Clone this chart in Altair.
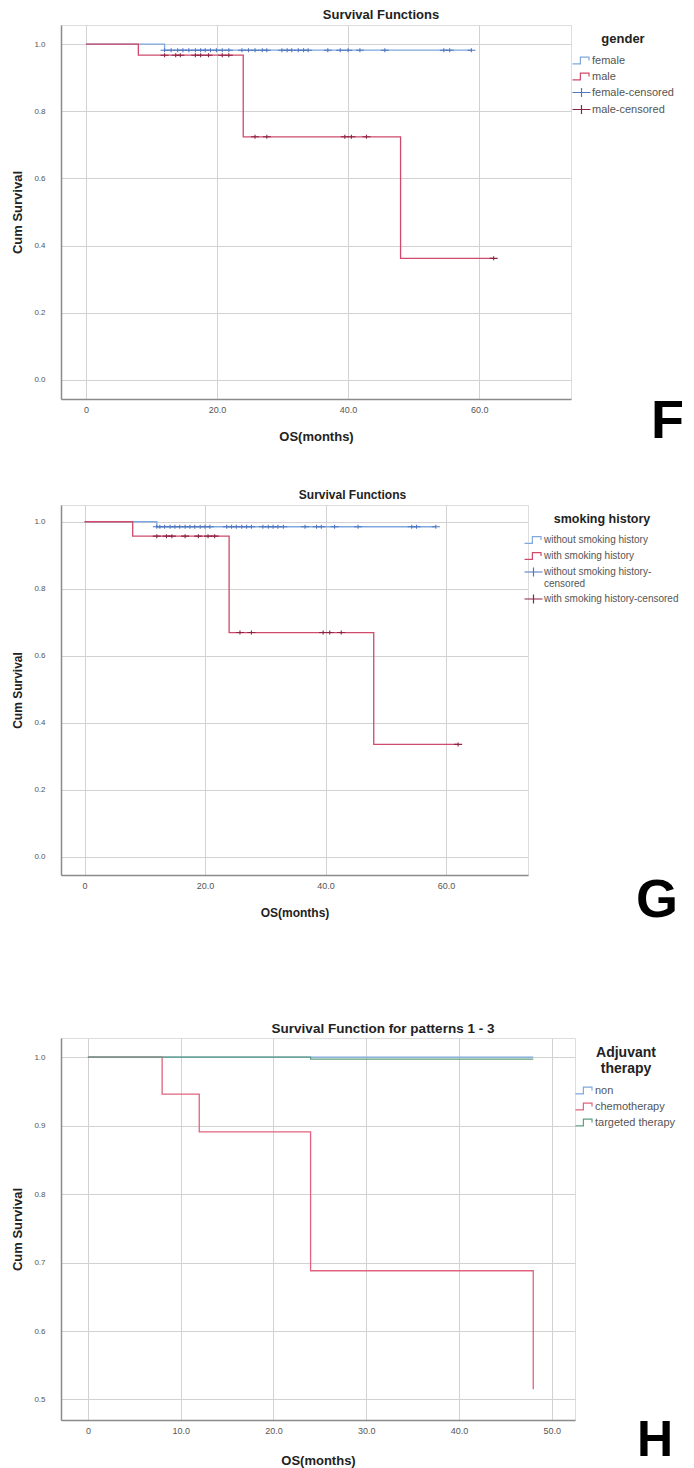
import altair as alt
import pandas as pd

FONT = "Liberation Sans"

# ---------------- Panel F : gender ----------------
F_female_t = [0, 12, 58.8]
F_female_s = [1.0, 0.982, 0.982]
F_male_t = [0, 8, 24, 48, 62.2]
F_male_s = [1.0, 0.967, 0.724, 0.362, 0.362]
F_female_cens = [12, 13, 14, 14.8, 15.7, 16.7, 17.5, 18.2, 19, 19.9, 20.8, 21.8,
                 23.8, 24.8, 25.8, 26.9, 27.6, 29.9, 30.7, 31.4, 32.4, 33.2, 33.9,
                 36.9, 38.8, 40, 41.8, 45.6, 54.6, 55.5, 58.8]
F_male_cens = [12, 13.7, 14.4, 16.7, 17.5, 18.7, 20.8, 21.8, 25.8, 27.6, 39.5,
               40.5, 42.8, 62.2]
F_labels = ["female", "male", "female-censored", "male-censored"]

# ---------------- Panel G : smoking history ----------------
G_non_t = [0, 12, 58.3]
G_non_s = [1.0, 0.985, 0.985]
G_smk_t = [0, 8, 24, 48, 62.0]
G_smk_s = [1.0, 0.957, 0.669, 0.335, 0.335]
G_non_cens = [12, 12.5, 13.3, 14.2, 15.0, 15.8, 16.7, 17.5, 18.3, 19.2, 20.0, 20.8,
              23.6, 24.4, 25.2, 26.1, 26.9, 27.7, 29.6, 30.5, 31.3, 32.1, 33.0,
              36.6, 38.5, 39.3, 41.5, 45.4, 54.3, 55.1, 58.3]
G_smk_cens = [12, 13.6, 14.5, 16.7, 18.9, 20.5, 21.6, 25.8, 27.7, 39.6, 40.7,
              42.6, 62.0]
G_labels = ["without smoking history", "with smoking history",
            "without smoking history-censored", "with smoking history-censored"]

# ---------------- Panel H : adjuvant therapy ----------------
H_non_t = [0, 48]
H_non_s = [1.0, 1.0]
H_chemo_t = [0, 8, 12, 24, 48]
H_chemo_s = [1.0, 0.946, 0.891, 0.688, 0.515]
H_target_t = [0, 24, 48]
H_target_s = [1.0, 0.997, 0.997]
H_labels = ["non", "chemotherapy", "targeted therapy"]

BLUE_LINE = "#7fa8de"
BLUE_CENS = "#4f76bf"
RED_LINE = "#cf4a6b"
RED_CENS = "#8e2345"
H_RED = "#e0647f"
H_GREEN = "#5f9e80"

STEP = "M-1.2,0.45 L-0.15,0.45 L-0.15,-0.45 L1.0,-0.45 L1.0,0"
CROSS = "M-1.2,0 L1.2,0 M0,-0.6 L0,0.6"


def curve_value(t, times, surv):
    v = surv[0]
    for tt, ss in zip(times, surv):
        if tt <= t:
            v = ss
    return v


def line_df(sets):
    rows = []
    for times, surv, lab in sets:
        for t, s in zip(times, surv):
            rows.append({"t": t, "s": s, "label": lab})
    return pd.DataFrame(rows)


def cens_df(sets):
    rows = []
    for cts, times, surv, lab in sets:
        for t in cts:
            rows.append({"t": t, "s": curve_value(t, times, surv), "label": lab})
    return pd.DataFrame(rows)


def make_panel(lines, cens, domain, colors, shapes, xdom, ydom, xticks, yticks,
               yfmt, w, h, title, tdx, tsize, ltitle, lx, ly, ltsize, llsize,
               letter, letx, lety, letsize, atsize, xtpad, label_expr=None):
    xax = alt.Axis(values=xticks, grid=True, gridColor="#d2d2d2", gridWidth=1,
                   domainColor="#8a8a8a", domainWidth=1.5, ticks=False, tickSize=0,
                   labelExpr="datum.value == 0 ? '0' : format(datum.value, '.1f')",
                   labelFont=FONT, labelFontSize=9, labelColor="#555555",
                   labelPadding=6, title="OS(months)", titleFont=FONT,
                   titleFontSize=atsize, titleFontWeight="bold", titleColor="#222222",
                   titlePadding=xtpad)
    yax = alt.Axis(values=yticks, format=yfmt, grid=True, gridColor="#d2d2d2",
                   gridWidth=1, domainColor="#8a8a8a", domainWidth=1.5, ticks=False,
                   tickSize=0, labelFont=FONT, labelFontSize=8, labelColor="#555555",
                   labelPadding=16, title="Cum Survival", titleFont=FONT,
                   titleFontSize=atsize, titleFontWeight="bold", titleColor="#222222",
                   titlePadding=9)
    x = alt.X("t:Q", scale=alt.Scale(domain=xdom, nice=False, zero=False), axis=xax)
    y = alt.Y("s:Q", scale=alt.Scale(domain=ydom, nice=False, zero=False), axis=yax)

    leg_kwargs = dict(orient="none", legendX=lx, legendY=ly, title=ltitle,
                      titleFont=FONT, titleFontSize=ltsize, titleFontWeight="bold",
                      titleColor="#222222", titleAlign="center", titleAnchor="middle",
                      titlePadding=6, labelFont=FONT, labelFontSize=llsize,
                      labelColor="#555555", symbolSize=225, symbolStrokeWidth=1.2,
                      rowPadding=1, labelOffset=2, padding=0, labelLimit=300)
    if label_expr:
        leg_kwargs["labelExpr"] = label_expr
    if cens is None:
        leg_kwargs["symbolType"] = STEP
    legend = alt.Legend(**leg_kwargs)

    color = alt.Color("label:N", scale=alt.Scale(domain=domain, range=colors),
                      legend=legend, sort=domain)
    layer_list = [
        alt.Chart(lines).mark_line(interpolate="step-after", strokeWidth=1.3)
        .encode(x=x, y=y, color=color)
    ]
    if cens is not None:
        shape = alt.Shape("label:N", scale=alt.Scale(domain=domain, range=shapes),
                          legend=legend, sort=domain)
        layer_list.append(
            alt.Chart(cens).mark_point(filled=False, size=45, strokeWidth=1.1, opacity=1)
            .encode(x=x, y=y, color=color, shape=shape)
        )
    layer_list.append(
        alt.Chart(pd.DataFrame({"letter": [letter]}))
        .mark_text(font=FONT, fontSize=letsize, fontWeight="bold", align="left",
                   baseline="alphabetic", color="#000000")
        .encode(x=alt.value(letx), y=alt.value(lety), text="letter:N")
    )
    return alt.layer(*layer_list).properties(
        width=w, height=h,
        title=alt.TitleParams(text=title, font=FONT, fontSize=tsize,
                              fontWeight="bold", color="#222222", anchor="middle",
                              frame="group", dx=tdx, offset=3),
    )


panelF = make_panel(
    line_df([(F_female_t, F_female_s, F_labels[0]), (F_male_t, F_male_s, F_labels[1])]),
    cens_df([(F_female_cens, F_female_t, F_female_s, F_labels[2]),
             (F_male_cens, F_male_t, F_male_s, F_labels[3])]),
    F_labels, [BLUE_LINE, RED_LINE, BLUE_CENS, RED_CENS], [STEP, STEP, CROSS, CROSS],
    [-3.8, 74.0], [-0.057, 1.057], [0, 20, 40, 60], [0, 0.2, 0.4, 0.6, 0.8, 1.0], ".1f",
    510, 374, "Survival Functions", 65, 13, "gender", 512, 8, 13, 11,
    "F", 590, 413, 54, 13, 16)

panelG = make_panel(
    line_df([(G_non_t, G_non_s, G_labels[0]), (G_smk_t, G_smk_s, G_labels[1])]),
    cens_df([(G_non_cens, G_non_t, G_non_s, G_labels[2]),
             (G_smk_cens, G_smk_t, G_smk_s, G_labels[3])]),
    G_labels, [BLUE_LINE, RED_LINE, BLUE_CENS, RED_CENS], [STEP, STEP, CROSS, CROSS],
    [-3.9, 73.6], [-0.055, 1.05], [0, 20, 40, 60], [0, 0.2, 0.4, 0.6, 0.8, 1.0], ".1f",
    467, 370, "Survival Functions", 58, 12, "smoking history", 464, 8, 12.5, 10,
    "G", 575, 412, 54, 12, 17,
    label_expr="datum.label == 'without smoking history-censored' ? "
               "['without smoking history-', 'censored'] : datum.label")

panelH = make_panel(
    line_df([(H_non_t, H_non_s, H_labels[0]), (H_chemo_t, H_chemo_s, H_labels[1]),
             (H_target_t, H_target_s, H_labels[2])]),
    None,
    H_labels, [BLUE_LINE, H_RED, H_GREEN], None,
    [-2.9, 52.5], [0.47, 1.028], [0, 10, 20, 30, 40, 50], [0.5, 0.6, 0.7, 0.8, 0.9, 1.0],
    ".1f", 514, 382, "Survival Function for patterns 1 - 3", 65, 13.5,
    ["Adjuvant", "therapy"], 515, 8, 14, 11, "H", 576, 418, 50, 13, 19)

top = alt.vconcat(panelF, panelG, spacing=38).resolve_scale(
    color="independent", shape="independent")
chart = alt.vconcat(top, panelH, spacing=92).resolve_scale(
    color="independent", shape="independent"
).properties(padding={"left": 3, "top": 0, "right": 0, "bottom": 0}).configure_view(
    stroke=None).configure(font=FONT, background="white")

chart.save("out.html", embed_options={"renderer": "svg", "actions": False})
